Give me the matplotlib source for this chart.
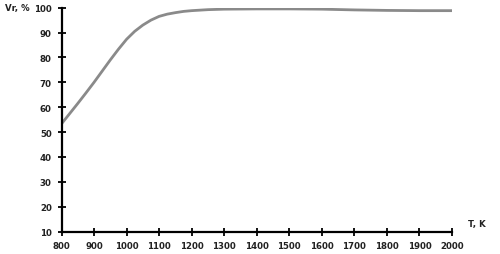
import matplotlib
matplotlib.use('Agg')
import matplotlib.pyplot as plt

# temperature, K and Vr, %
T = [800, 825, 850, 875, 900, 925, 950, 975, 1000, 1025, 1050, 1075, 1100,
     1125, 1150, 1175, 1200, 1250, 1300, 1400, 1500, 1600, 1700, 1800, 1900, 2000]
Vr = [53.3, 57.4, 61.5, 65.7, 70.0, 74.5, 79.0, 83.3, 87.3, 90.5, 93.0, 95.0, 96.5,
      97.4, 98.0, 98.5, 98.8, 99.2, 99.4, 99.5, 99.5, 99.4, 99.1, 98.9, 98.8, 98.8]

x_ticks = list(range(800, 2001, 100))
y_ticks = list(range(10, 101, 10))

plt.rcParams['font.family'] = 'DejaVu Sans'

fig = plt.figure(figsize=(5, 2.55), dpi=100)
ax = fig.add_axes([0.123, 0.088, 0.781, 0.878])

ax.plot(T, Vr, color='#8a8a8a', linewidth=2.0, solid_capstyle='round',
        solid_joinstyle='round')

ax.set_xlim(800, 2000)
ax.set_ylim(10, 100)
ax.set_xticks(x_ticks)
ax.set_yticks(y_ticks)
ax.tick_params(direction='inout', length=6, width=1.3, labelsize=6.2, pad=4)
for lab in ax.get_xticklabels() + ax.get_yticklabels():
    lab.set_fontweight('bold')
    lab.set_color('#222222')

for s in ['top', 'right']:
    ax.spines[s].set_visible(False)
for s in ['left', 'bottom']:
    ax.spines[s].set_linewidth(1.6)

fig.text(0.01, 0.966, 'Vr, %', fontsize=6.2, fontweight='bold', va='center', color='#222222')
fig.text(0.936, 0.118, 'T, K', fontsize=6.2, fontweight='bold', va='center', color='#222222')

fig.savefig('out.png', dpi=100)
